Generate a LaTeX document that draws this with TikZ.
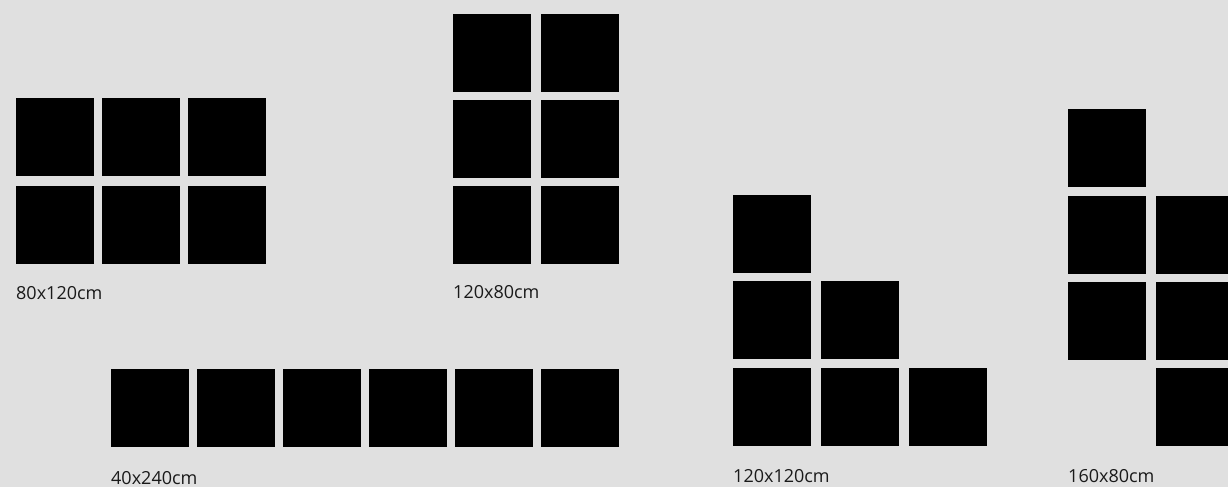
\documentclass[tikz,border=0pt]{standalone}
\usepackage{fontspec}
\setmainfont{Open Sans}
\definecolor{bg}{HTML}{E0E0E0}
\definecolor{txt}{HTML}{1A1A1A}
\tikzset{
  sq/.style={fill=black, draw=none, inner sep=0pt, outer sep=0pt, minimum size=78pt, anchor=north west},
  lbl/.style={anchor=base west, inner sep=0pt, text=txt, font=\fontsize{18}{20}\selectfont}
}
\begin{document}
\begin{tikzpicture}[x=1pt,y=-1pt]
\useasboundingbox (0,0) rectangle (1228,487);
\fill[bg] (0,0) rectangle (1228,487);
\clip (0,0) rectangle (1228,487);
% 80x120cm
\foreach \c/\x in {1/16,2/102,3/188}{
  \foreach \r/\y in {1/98,2/186}{
    \node[sq] (a\r\c) at (\x,\y) {};
  }
}
\node[lbl] (la) at (16,299) {80x120cm};
% 120x80cm
\foreach \c/\x in {1/453,2/541}{
  \foreach \r/\y in {1/14,2/100,3/186}{
    \node[sq] (b\r\c) at (\x,\y) {};
  }
}
\node[lbl] (lb) at (453,298) {120x80cm};
% 40x240cm
\foreach \c/\x in {1/111,2/197,3/283,4/369,5/455,6/541}{
  \node[sq] (c\c) at (\x,369) {};
}
\node[lbl] (lc) at (111,484) {40x240cm};
% 120x120cm
\node[sq] (d11) at (733,195) {};
\node[sq] (d21) at (733,281) {};
\node[sq] (d22) at (821,281) {};
\node[sq] (d31) at (733,368) {};
\node[sq] (d32) at (821,368) {};
\node[sq] (d33) at (909,368) {};
\node[lbl] (ld) at (733,482) {120x120cm};
% 160x80cm
\node[sq] (e11) at (1068,109) {};
\node[sq] (e21) at (1068,196) {};
\node[sq] (e22) at (1156,196) {};
\node[sq] (e31) at (1068,282) {};
\node[sq] (e32) at (1156,282) {};
\node[sq] (e42) at (1156,368) {};
\node[lbl] (le) at (1068,482) {160x80cm};
\end{tikzpicture}
\end{document}
